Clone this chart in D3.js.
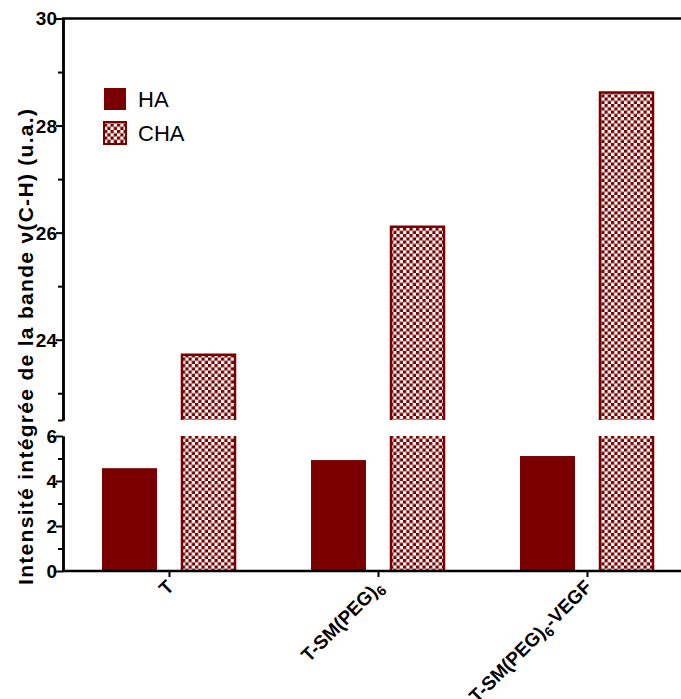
<!DOCTYPE html>
<html><head><meta charset="utf-8">
<script src="https://cdn.jsdelivr.net/npm/d3@7"></script>
<style>body{margin:0;background:#fff}svg{display:block}text{font-family:"Liberation Sans",Arial,sans-serif}</style>
</head><body>
<script>
const categories = ["T", "T-SM(PEG)6", "T-SM(PEG)6-VEGF"];
const seriesNames = ["HA", "CHA"];
const haValues = [4.57, 4.93, 5.11];
const chaValues = [23.72, 26.11, 28.62];
const upperTicks = [24, 26, 28, 30];
const upperMinor = [23, 25, 27, 29];
const lowerTicks = [0, 2, 4, 6];
const lowerMinor = [1, 3, 5];

const W = 681, H = 699, color = "#7a0000";
const svg = d3.select("body").append("svg").attr("width", W).attr("height", H);
const defs = svg.append("defs");
const pat = defs.append("pattern").attr("id","checker").attr("patternUnits","userSpaceOnUse")
  .attr("width",6.5).attr("height",6.5);
pat.append("rect").attr("width",6.5).attr("height",6.5).attr("fill","#fff");
pat.append("rect").attr("width",3.25).attr("height",3.25).attr("fill",color);
pat.append("rect").attr("x",3.25).attr("y",3.25).attr("width",3.25).attr("height",3.25).attr("fill",color);

const axX = 63;
const yUp = d3.scaleLinear().domain([22.5, 30]).range([420, 18.5]);
const yLo = d3.scaleLinear().domain([0, 6]).range([571, 436]);
const x = d3.scalePoint().domain(categories).range([169, 587]);
const off = 39.5, bw = 55;

// HA bars
svg.selectAll(".ha").data(categories).join("rect")
  .attr("x", d => x(d) - off - bw/2).attr("width", bw)
  .attr("y", (d,i) => yLo(haValues[i])).attr("height", (d,i) => yLo(0) - yLo(haValues[i]))
  .attr("fill", color);

// CHA bars with axis break
categories.forEach((c,i) => {
  const x0 = x(c) + off - bw/2 + 1, x1 = x0 + bw - 2;
  const yt = yUp(chaValues[i]), yb = yUp.range()[0];
  svg.append("rect").attr("x", x0).attr("y", yt).attr("width", x1-x0).attr("height", yb-yt).attr("fill","url(#checker)");
  svg.append("path").attr("d", `M${x0},${yb}V${yt}H${x1}V${yb}`).attr("fill","none").attr("stroke",color).attr("stroke-width",2.5);
  const lt = yLo(6), lb = yLo(0);
  svg.append("rect").attr("x", x0).attr("y", lt).attr("width", x1-x0).attr("height", lb-lt).attr("fill","url(#checker)");
  svg.append("path").attr("d", `M${x0},${lt}V${lb}M${x1},${lt}V${lb}`).attr("fill","none").attr("stroke",color).attr("stroke-width",2.5);
});

// axes
const upAxis = svg.append("g").attr("transform",`translate(${axX},0)`)
  .call(d3.axisLeft(yUp).tickValues(upperTicks).tickSize(7).tickSizeOuter(0).tickFormat(d3.format("d")));
const upMin = svg.append("g").attr("transform",`translate(${axX},0)`)
  .call(d3.axisLeft(yUp).tickValues(upperMinor.concat([22.5])).tickSize(5).tickSizeOuter(0).tickFormat(""));
const loAxis = svg.append("g").attr("transform",`translate(${axX},0)`)
  .call(d3.axisLeft(yLo).tickValues(lowerTicks).tickSize(7).tickSizeOuter(0).tickFormat(d3.format("d")));
const loMin = svg.append("g").attr("transform",`translate(${axX},0)`)
  .call(d3.axisLeft(yLo).tickValues(lowerMinor).tickSize(5).tickSizeOuter(0).tickFormat(""));
[upAxis, upMin, loAxis, loMin].forEach(g => {
  g.attr("font-size", null).attr("font-family", null);
  g.select(".domain").attr("stroke","#000").attr("stroke-width",2.5);
  g.selectAll(".tick line").attr("stroke","#000").attr("stroke-width",2);
  g.selectAll(".tick text").style("font-size","19px").style("font-weight","bold").attr("fill","#000").attr("x",-6).attr("dy","0.34em");
});

// top line
svg.append("line").attr("x1", axX-1).attr("x2", W).attr("y1", 18.5).attr("y2", 18.5).attr("stroke","#000").attr("stroke-width",2.5);

// x axis
const xa = svg.append("g").attr("transform",`translate(0,${yLo(0)})`)
  .call(d3.axisBottom(x).tickSize(6).tickSizeOuter(0).tickFormat(""));
xa.select(".domain").attr("d", `M${axX-1},0H${W}`).attr("stroke","#000").attr("stroke-width",2.5);
xa.selectAll(".tick line").attr("stroke","#000").attr("stroke-width",2);

// x labels (rotated)
categories.forEach(c => {
  const t = svg.append("text").attr("text-anchor","end").style("font-size","19px").style("font-weight","bold")
    .attr("transform",`translate(${x(c)+6},${yLo(0)+17}) rotate(-45)`);
  const parts = c.split("6");
  if (parts.length === 1) { t.text(c); }
  else {
    t.append("tspan").text(parts[0]);
    t.append("tspan").style("font-size","14px").attr("dy",5).text("6");
    if (parts[1]) t.append("tspan").attr("dy",-5).text(parts[1]);
  }
});

// y title
svg.append("text").attr("transform","translate(33,347) rotate(-90)").attr("text-anchor","middle")
  .style("font-size","21px").style("font-weight","bold")
  .attr("textLength", 476).attr("lengthAdjust","spacing")
  .text("Intensité intégrée de la bande ν(C-H)  (u.a.)");

// legend
const leg = svg.append("g");
seriesNames.forEach((s,i) => {
  const y0 = 88 + i*34;
  leg.append("rect").attr("x",104).attr("y",y0).attr("width",22).attr("height",22)
    .attr("fill", i===0 ? color : "url(#checker)").attr("stroke", color).attr("stroke-width", i===0?0:2);
  leg.append("text").attr("x",138).attr("y",y0+19).style("font-size","22px").text(s);
});
</script>
</body></html>
